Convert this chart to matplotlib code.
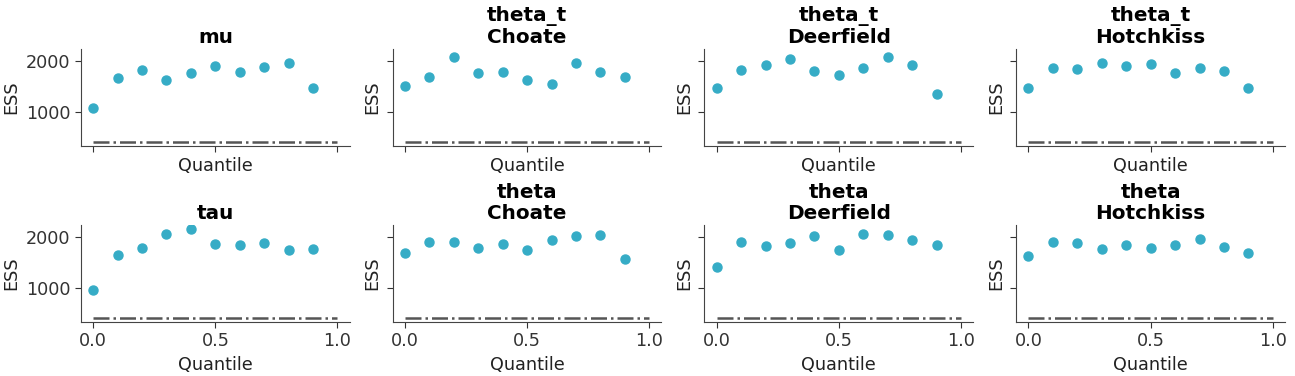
import numpy as np
import matplotlib.pyplot as plt

quantiles = np.round(np.arange(0, 1.0, 0.1), 1)
min_ess = 400

titles = ["mu", "theta_t\nChoate", "theta_t\nDeerfield", "theta_t\nHotchkiss",
          "tau", "theta\nChoate", "theta\nDeerfield", "theta\nHotchkiss"]

ess_mu = [1080, 1660, 1820, 1620, 1767, 1907, 1787, 1880, 1967, 1460]
ess_theta_t_choate = [1513, 1693, 2080, 1760, 1780, 1620, 1540, 1960, 1793, 1693]
ess_theta_t_deerfield = [1460, 1820, 1920, 2040, 1800, 1720, 1860, 2080, 1920, 1340]
ess_theta_t_hotchkiss = [1467, 1860, 1840, 1960, 1900, 1940, 1760, 1860, 1800, 1460]
ess_tau = [960, 1640, 1787, 2067, 2160, 1860, 1840, 1880, 1740, 1760]
ess_theta_choate = [1680, 1900, 1900, 1787, 1860, 1740, 1940, 2020, 2040, 1560]
ess_theta_deerfield = [1407, 1900, 1820, 1880, 2020, 1740, 2060, 2040, 1940, 1840]
ess_theta_hotchkiss = [1620, 1900, 1880, 1760, 1840, 1787, 1840, 1960, 1800, 1680]

all_ess = [ess_mu, ess_theta_t_choate, ess_theta_t_deerfield, ess_theta_t_hotchkiss,
           ess_tau, ess_theta_choate, ess_theta_deerfield, ess_theta_hotchkiss]

plt.rcParams['font.family'] = 'DejaVu Sans'
fig, axes = plt.subplots(2, 4, figsize=(12.95, 3.76), dpi=100, sharex=True, sharey=True)
fig.subplots_adjust(left=0.0625, right=0.9923, top=0.8697, bottom=0.1436,
                    wspace=0.16, hspace=0.814)

for ax, title, ess in zip(axes.flat, titles, all_ess):
    ax.plot(quantiles, ess, "o", color="#36acc6", markersize=6.5)
    ax.hlines(min_ess, 0, 1, color="#555555", linestyle="-.", linewidth=1.8)
    ax.set_title(title, fontsize=14.4, fontweight="bold", pad=4, linespacing=1.15)
    ax.set_xlabel("Quantile", fontsize=12.7, color="#222222")
    ax.set_ylabel("ESS", fontsize=12.7, color="#222222")
    ax.spines['top'].set_visible(False)
    ax.spines['right'].set_visible(False)
    for s in ['left', 'bottom']:
        ax.spines[s].set_color("#444444")
    ax.tick_params(labelsize=12.7, colors="#333333", length=4, width=0.8)
    ax.tick_params(axis='x', labelbottom=(ax in axes[1]))

axes[0, 0].set_xticks([0, 0.5, 1.0])
axes[0, 0].set_yticks([1000, 2000])

fig.savefig("out.png")
